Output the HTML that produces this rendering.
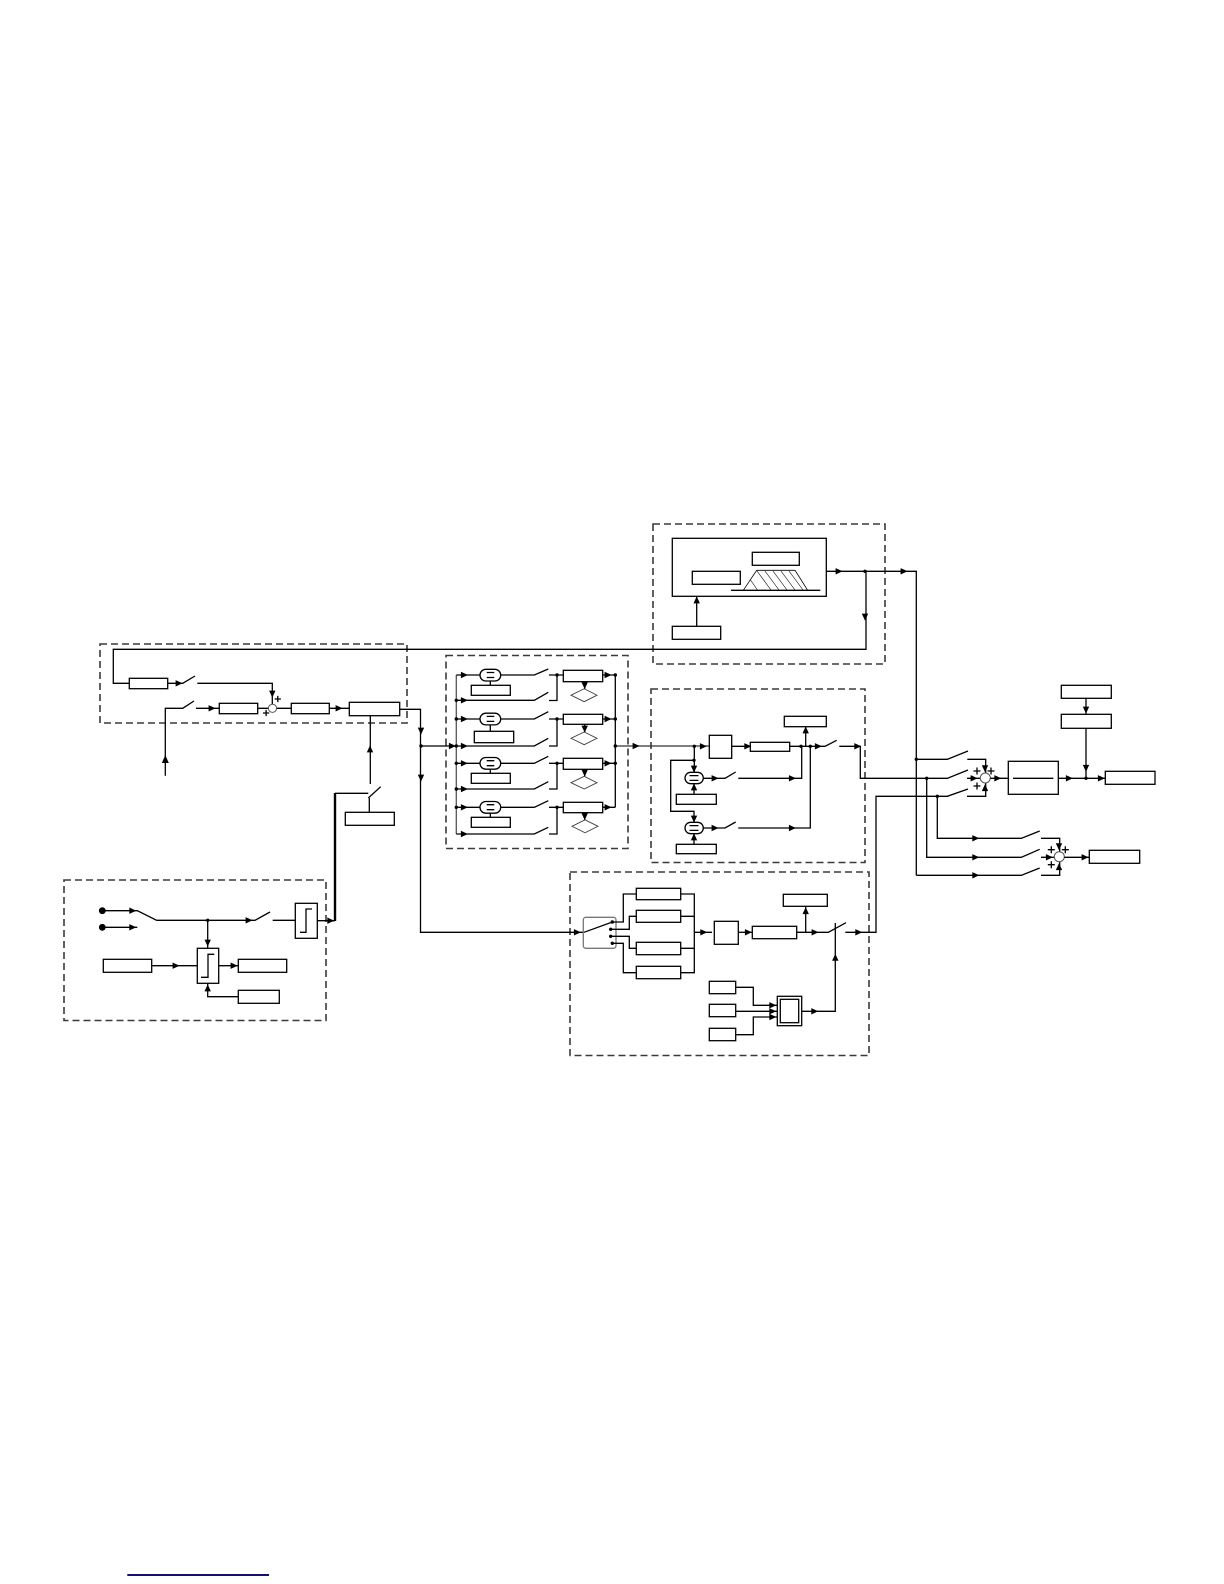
<!DOCTYPE html>
<html><head><meta charset="utf-8"><style>html,body{margin:0;padding:0;background:#fff}svg{display:block}</style></head>
<body>
<svg xmlns="http://www.w3.org/2000/svg" width="1224" height="1584" viewBox="0 0 1224 1584">
<defs>
<polygon id="R" points="-3.4,-3.2 3.6,0 -3.4,3.2" fill="#000"/>
<polygon id="D" points="-3.2,-3.4 3.2,-3.4 0,3.6" fill="#000"/>
<polygon id="U" points="-3.2,3.4 3.2,3.4 0,-3.6" fill="#000"/>
<circle id="J" r="1.7" fill="#000"/>
</defs>
<!-- dashed regions -->
<g fill="none" stroke="#3a3a3a" stroke-width="1.6" stroke-dasharray="7 4">
<rect x="100" y="644" width="307" height="79"/>
<rect x="64" y="880" width="262" height="140.5"/>
<rect x="446" y="655.5" width="182" height="193"/>
<rect x="653" y="524" width="232" height="140"/>
<rect x="651" y="689" width="214" height="173.5"/>
<rect x="570" y="872" width="299" height="183.5"/>
</g>
<g fill="none" stroke="#000" stroke-width="1.3">
<!-- block 1 -->
<path d="M866 571.3V649.3H113.3V683.3H129.3M168 683.3H182.7L195 676M197.3 683.3H272.3V704"/>
<rect x="129.3" y="678.3" width="38.4" height="10.4"/>
<path d="M165.3 775.7V708.3H182.7L194 701M196 708.3H219.3"/>
<rect x="219.3" y="703.3" width="38.4" height="10.4"/>
<path d="M257.7 708.3H268.3M276.7 708.3H291.3"/>
<circle cx="272.5" cy="708.3" r="4.1" stroke="#555" stroke-width="1"/>
<rect x="291.3" y="703.3" width="38" height="10.4"/>
<path d="M329.3 708.3H349.3"/>
<rect x="349.3" y="702.3" width="50.4" height="13.4"/>
<path d="M399.7 709.3H420.5V932.3H583.3M420.5 746H456.3M370.3 716V784"/>
<path d="M274.7 699H280.9M277.8 695.9V702.1M263 713H269.2M266.1 709.9V716.1"/>
<path d="M335 793.3H368.3M368.3 798L380.7 786.7M369.3 798V812.3"/>
<rect x="345.3" y="812.3" width="49" height="13"/>
<path d="M335 793V921" stroke-width="2.4"/>
<!-- block 2 -->
<path d="M105 910.7H137.3L156.7 920.3H255L270 912M272.7 920.3H295.3M105 927.3H137.3"/>
<rect x="295.3" y="903.3" width="22" height="35"/>
<path d="M300 932.3H306V909H312M317.3 920.7H335"/>
<path d="M207.7 920.3V948.3"/>
<rect x="197.3" y="948.3" width="21.4" height="35"/>
<path d="M201 977.3H208V954.3H214.3"/>
<rect x="103.3" y="959.3" width="48.4" height="13"/>
<path d="M151.7 965.7H197.3M218.7 965.7H238.3"/>
<rect x="238.3" y="959.3" width="48.4" height="13"/>
<rect x="238.3" y="990.3" width="41" height="13"/>
<path d="M238.3 996.7H207.7V983.3"/>
<!-- block 3 -->
<path d="M456.3 675V834" stroke="#555"/>
<path d="M456.3 675H480M500.7 675H534.3L548.3 669M549 675H563.3M557 675V700.5H549M456.3 700.3H534.3L548.3 692.3"/>
<rect x="480" y="669.3" width="20.7" height="11.7" rx="5.8"/>
<path d="M486.7 672.5H494.3M486.7 677.5H494.3M490.3 681V685.3"/>
<rect x="471.3" y="685.3" width="39" height="10"/>
<rect x="563.3" y="670.3" width="39.4" height="11.4"/>
<path d="M602.7 675H615.3M584.7 681.7V689"/>
<polygon points="571,695.2 584.2,688.7 597,695.2 584.2,701.7" stroke="#444" stroke-width=".9"/>

<path d="M456.3 719H480M500.7 719H534.3L548.3 711.7M549 719H563.3M557 719V746H549M456.3 746H534.3L548.3 738.3"/>
<rect x="480" y="713.2" width="20.7" height="11.7" rx="5.8"/>
<path d="M486.7 716.4H494.3M486.7 721.4H494.3M490.3 725V731.3"/>
<rect x="474.3" y="731.3" width="39.4" height="11.4"/>
<rect x="563.3" y="714.3" width="39.4" height="10"/>
<path d="M602.7 719H615.3M584.7 724.3V732"/>
<polygon points="571,738.3 584.2,732 597,738.3 584.2,744.7" stroke="#444" stroke-width=".9"/>

<path d="M456.3 763.3H480M500.7 763.3H534.3L548.3 756.3M549 763.3H563.3M557 763.3V789H549M456.3 789H534.3L548.3 781.7"/>
<rect x="480" y="757.5" width="20.7" height="11.7" rx="5.8"/>
<path d="M486.7 760.7H494.3M486.7 765.7H494.3M490.3 769.3V773.3"/>
<rect x="471.3" y="773.3" width="39" height="10"/>
<rect x="563.3" y="758.3" width="39.4" height="11"/>
<path d="M602.7 763.3H615.3M584.7 769.3V776.3"/>
<polygon points="571,782.7 584.2,776.3 597,782.7 584.2,789" stroke="#444" stroke-width=".9"/>

<path d="M456.3 807.3H480M500.7 807.3H534.3L548.3 800.7M549 807.3H563.3M557 807.3V834H549M456.3 834H534.3L548.3 827.3"/>
<rect x="480" y="801.5" width="20.7" height="11.7" rx="5.8"/>
<path d="M486.7 804.7H494.3M486.7 809.7H494.3M490.3 813.3V817.3"/>
<rect x="471.3" y="817.3" width="39" height="10"/>
<rect x="563.3" y="802.3" width="39.4" height="10.4"/>
<path d="M602.7 807.3H615.3M584.7 812.7V819.5"/>
<polygon points="572,826.3 585,819.8 598,826.3 585,832.8" stroke="#444" stroke-width=".9"/>
<path d="M615.3 675V807.3"/>
<path d="M615.3 746H709.3" stroke="#333"/>
<!-- block 4 -->
<rect x="672.3" y="538.3" width="154" height="58"/>
<rect x="752.3" y="552.3" width="47" height="13"/>
<rect x="692.3" y="571.3" width="48" height="13"/>
<path d="M731 590.3H820.3"/>
<path d="M743.3 590.3L756.7 570.3H795L807.7 590.3" stroke-width=".8"/>
<path d="M750.5 580L757.5 590M757 571L771 590M765 571L779 590M773 571L787 590M781 571L795 590M789 571L803 590" stroke-width=".6"/>
<rect x="672.3" y="626.3" width="48.4" height="13"/>
<path d="M696.7 626.3V596.3M826.3 571.3H916.3V875.3"/>
<!-- block 5 -->
<rect x="709.3" y="735.3" width="22.4" height="23"/>
<path d="M731.7 746.3H750.3"/>
<rect x="750.3" y="742.3" width="39.4" height="9"/>
<path d="M789.7 746.3H825L836.7 740.3M839.3 746.3H860.3V778.3H947.3L968 770"/>
<rect x="784.3" y="716.3" width="42" height="10.4"/>
<path d="M805.7 746.3V726.7"/>
<path d="M694.3 746.3V772.3M694 760.3H670.7V811.3H694V822.3"/>
<rect x="685" y="772.3" width="18.3" height="11.4" rx="5.7"/>
<rect x="685" y="822.3" width="18.3" height="11.4" rx="5.7"/>
<path d="M689.5 775.6H698.5M689.5 780.4H698.5M689.5 825.6H698.5M689.5 830.4H698.5"/>
<path d="M694 783.7V794.3M694 833.7V844.3"/>
<rect x="676.3" y="794.3" width="40" height="10"/>
<rect x="676.3" y="844.3" width="40" height="9.4"/>
<path d="M703.3 778.3H725L735.7 772M738.3 778.3H801.7V746.3M703.3 828H725L735.7 822M738.3 828H810.3V746.3"/>
<!-- block 6 -->
<rect x="583.3" y="917.3" width="32.7" height="31" rx="2.5" stroke="#777"/>
<path d="M584 932.3L612.3 922H623.3V894H636.3M610.7 929.3H629.3V916.3H636.3M610.7 936.3H629.3V948.3H636.3M612.3 943.3H623.3V972.7H636.3"/>
<rect x="636.3" y="888.3" width="44.4" height="11.4"/>
<rect x="636.3" y="910.3" width="44.4" height="12"/>
<rect x="636.3" y="942.3" width="44.4" height="12.4"/>
<rect x="636.3" y="966.3" width="44.4" height="12.4"/>
<path d="M680.7 894H694.3V972.7H680.7M680.7 916.3H694.3M680.7 948.3H694.3M694.3 932.3H712"/>
<rect x="714.3" y="921.3" width="24" height="23"/>
<path d="M738.3 932.3H752.3"/>
<rect x="752.3" y="926.3" width="44.4" height="12.4"/>
<path d="M796.7 932.3H828.3L846 922.7M805.7 932.3V906.3"/>
<rect x="783.3" y="894.3" width="44" height="12"/>
<path d="M835.3 923V1011.3H801.7"/>
<rect x="777.3" y="996.3" width="24.4" height="29.4"/>
<rect x="780.3" y="999.3" width="18.4" height="23.4"/>
<rect x="709.3" y="981.3" width="26.4" height="12.4"/>
<rect x="709.3" y="1004.3" width="26.4" height="12.4"/>
<rect x="709.3" y="1028.3" width="26.4" height="12.4"/>
<path d="M735.7 987.3H753.3V1005.3H777.3M735.7 1011.3H777.3M735.7 1034.7H753.3V1017H777.3"/>
<path d="M845.3 932.3H876V796.3H947.3L968 789"/>
<!-- right side -->
<path d="M916.3 759.3H947.3L968 751M967.3 759.3H985.7V773M967 778.3H980M967 796.3H985.7V783"/>
<circle cx="985.3" cy="778" r="5" stroke="#555" stroke-width="1"/>
<path d="M973.5 771H980.5M977 767.5V774.5M987.5 771H994.5M991 767.5V774.5M973.5 786H980.5M977 782.5V789.5"/>
<path d="M990.3 778.3H1008.3"/>
<rect x="1008.3" y="761.3" width="50" height="33"/>
<path d="M1013 778.3H1053.3M1058.3 778.3H1105.3"/>
<rect x="1105.3" y="771.3" width="49.7" height="13"/>
<rect x="1061.3" y="685.3" width="50" height="13"/>
<rect x="1061.3" y="714.3" width="50" height="14"/>
<path d="M1086 698.3V714.3M1086 728.3V778.3"/>
<path d="M926.7 778.3V857.3H1021.3L1039.7 849.3M937.3 796.3V838.3H1021.3L1039.7 831M916.3 875.3H1021.3L1039.7 868"/>
<path d="M1041 838.3H1059.7V851.7M1041 857.3H1054.3M1041 875.3H1059.7V861.7"/>
<circle cx="1059.3" cy="856.7" r="5" stroke="#555" stroke-width="1"/>
<path d="M1047.8 849.7H1054.8M1051.3 846.2V853.2M1061.8 849.7H1068.8M1065.3 846.2V853.2M1047.8 864.7H1054.8M1051.3 861.2V868.2"/>
<path d="M1064.3 857.3H1089.3"/>
<rect x="1089.3" y="850.3" width="50.4" height="13"/>
</g>
<rect x="127.3" y="1574" width="141.7" height="2" fill="#10107a"/>
<!-- terminals -->
<circle cx="102.3" cy="910.7" r="3.4"/><circle cx="102.3" cy="927.3" r="3.4"/>
<!-- arrowheads -->
<use href="#R" x="179" y="683.3"/><use href="#R" x="212" y="708.3"/><use href="#R" x="339" y="708.3"/>
<use href="#D" x="272.3" y="694"/><use href="#D" x="421" y="731"/><use href="#D" x="421" y="778"/>
<polygon points="165.3,755 161.8,763 168.8,763" fill="#000"/><use href="#U" x="370" y="749"/>
<use href="#R" x="132.7" y="910.7"/><use href="#R" x="132.7" y="927.3"/><use href="#R" x="249" y="920.3"/><use href="#R" x="330.7" y="920.7"/>
<use href="#D" x="207.7" y="943"/><use href="#R" x="176" y="965.7"/><use href="#R" x="234" y="965.7"/><use href="#U" x="207.7" y="988"/>
<use href="#R" x="452.3" y="746"/>
<use href="#R" x="464.3" y="675"/><use href="#R" x="464.3" y="700.3"/><use href="#R" x="464.3" y="719"/><use href="#R" x="464.3" y="746"/><use href="#R" x="464.3" y="763.3"/><use href="#R" x="464.3" y="789"/><use href="#R" x="464.3" y="807.3"/><use href="#R" x="464.3" y="834"/>
<use href="#R" x="608" y="675"/><use href="#R" x="608" y="719"/><use href="#R" x="608" y="763.3"/><use href="#R" x="608" y="807.3"/>
<use href="#D" x="584.7" y="685.5"/><use href="#D" x="584.7" y="729"/><use href="#D" x="584.7" y="773"/><use href="#D" x="584.7" y="816.5"/>
<use href="#R" x="636" y="746"/>
<use href="#U" x="696.7" y="600"/><use href="#R" x="839" y="571.3"/><use href="#R" x="904" y="571.3"/><use href="#D" x="865" y="617"/>
<use href="#R" x="703.3" y="746.3"/><use href="#R" x="747.7" y="746.3"/><use href="#U" x="805.7" y="730"/><use href="#R" x="818.3" y="746.3"/><use href="#R" x="857.7" y="746.3"/>
<use href="#D" x="694" y="769"/><use href="#D" x="694" y="819"/><use href="#U" x="694" y="787"/><use href="#U" x="694" y="837"/>
<use href="#R" x="715" y="778.3"/><use href="#R" x="792.3" y="778.3"/><use href="#R" x="715" y="828"/><use href="#R" x="792.3" y="828"/>
<use href="#R" x="577.3" y="932.3"/><use href="#R" x="703.7" y="932.3"/><use href="#R" x="748.3" y="932.3"/><use href="#U" x="805.7" y="910.7"/><use href="#R" x="815" y="932.3"/><use href="#R" x="858.7" y="932.3"/>
<use href="#U" x="835.3" y="957.3"/><use href="#R" x="814.7" y="1011.3"/><use href="#R" x="772.7" y="1005.3"/><use href="#R" x="772.7" y="1011.3"/><use href="#R" x="772.7" y="1017"/>
<use href="#D" x="985" y="768.7"/><use href="#R" x="974" y="778.3"/><use href="#U" x="985" y="787.7"/><use href="#R" x="997.7" y="778.3"/><use href="#R" x="1069.3" y="778.3"/><use href="#R" x="1101.3" y="778.3"/>
<use href="#D" x="1086" y="710"/><use href="#D" x="1086" y="768.3"/>
<use href="#R" x="975.7" y="838.3"/><use href="#R" x="975.7" y="857.3"/><use href="#R" x="975.7" y="875.3"/>
<use href="#D" x="1059" y="846.7"/><use href="#R" x="1049.3" y="857.3"/><use href="#U" x="1059" y="866.7"/><use href="#R" x="1085" y="857.3"/>
<!-- junctions -->
<use href="#J" x="421" y="746"/><use href="#J" x="207.7" y="920.3"/>
<use href="#J" x="456.3" y="700.3"/><use href="#J" x="456.3" y="719"/><use href="#J" x="456.3" y="746"/><use href="#J" x="456.3" y="763.3"/><use href="#J" x="456.3" y="789"/><use href="#J" x="456.3" y="807.3"/>
<use href="#J" x="557" y="675"/><use href="#J" x="557" y="719"/><use href="#J" x="557" y="763.3"/><use href="#J" x="557" y="807.3"/>
<use href="#J" x="615.3" y="675"/><use href="#J" x="615.3" y="719"/><use href="#J" x="615.3" y="746"/><use href="#J" x="615.3" y="763.3"/>
<use href="#J" x="865" y="571.3"/><use href="#J" x="694.3" y="746.3"/><use href="#J" x="694" y="760.3"/><use href="#J" x="801" y="746.3"/><use href="#J" x="810.3" y="746.3"/>
<use href="#J" x="612.3" y="922"/><use href="#J" x="610.7" y="929.3"/><use href="#J" x="610.7" y="936.3"/><use href="#J" x="612.3" y="943.3"/>
<use href="#J" x="916.3" y="759.3"/><use href="#J" x="926.7" y="778.3"/><use href="#J" x="937.3" y="796.3"/><use href="#J" x="1086" y="778.3"/>
</svg>
</body></html>
